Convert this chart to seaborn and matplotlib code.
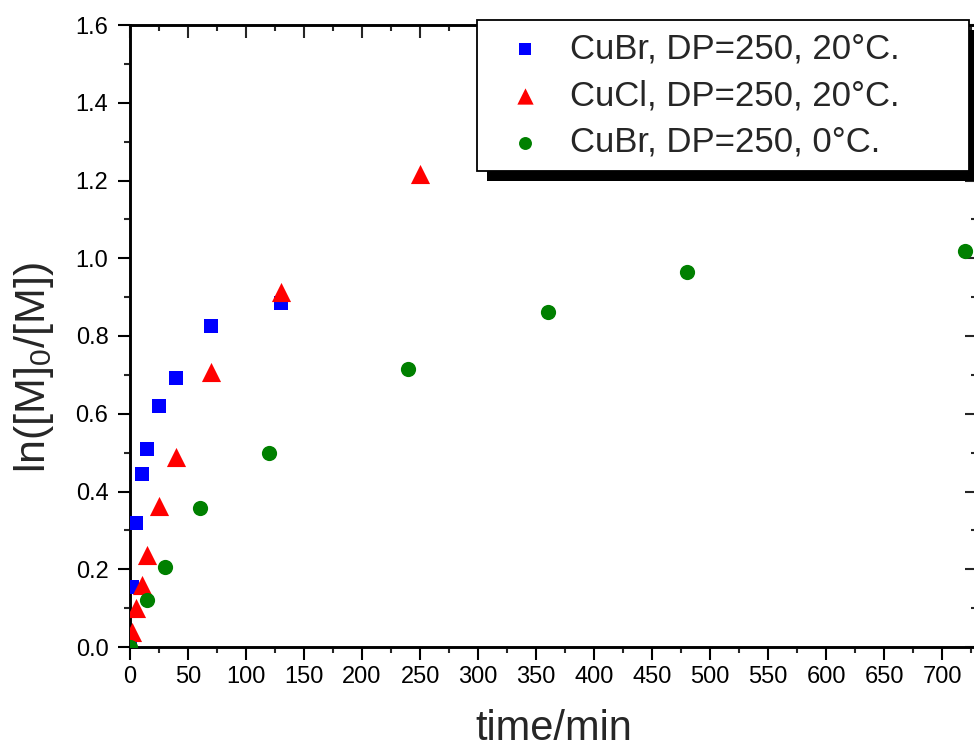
import numpy as np
import pandas as pd
import matplotlib
matplotlib.use("Agg")
import matplotlib.pyplot as plt
import seaborn as sns
from matplotlib.patches import Rectangle
from matplotlib.ticker import MultipleLocator, FormatStrFormatter

# ---- data ----
labels = ["CuBr, DP=250, 20°C.", "CuCl, DP=250, 20°C.", "CuBr, DP=250, 0°C."]
t_cubr20 = [0, 2, 5, 10, 15, 25, 40, 70, 130]
y_cubr20 = [0.0, 0.155, 0.32, 0.445, 0.51, 0.62, 0.692, 0.826, 0.886]
t_cucl20 = [0, 2, 5, 10, 15, 25, 40, 70, 130, 250]
y_cucl20 = [0.0, 0.039, 0.10, 0.16, 0.237, 0.363, 0.489, 0.707, 0.913, 1.217]
t_cubr0 = [0, 15, 30, 60, 120, 240, 360, 480, 720]
y_cubr0 = [0.0, 0.121, 0.206, 0.358, 0.499, 0.715, 0.862, 0.965, 1.019]

colors = ["#0000ff", "#ff0000", "#008000"]
markers = ["s", "^", "o"]
sizes = [110, 190, 120]

df = pd.concat([
    pd.DataFrame({"t": t_cubr20, "y": y_cubr20, "series": labels[0]}),
    pd.DataFrame({"t": t_cucl20, "y": y_cucl20, "series": labels[1]}),
    pd.DataFrame({"t": t_cubr0, "y": y_cubr0, "series": labels[2]}),
])

sns.set_style("ticks")
plt.rcParams["font.family"] = ["Liberation Sans", "DejaVu Sans"]
plt.rcParams["mathtext.fontset"] = "custom"
plt.rcParams["mathtext.rm"] = "Liberation Sans"
plt.rcParams["mathtext.it"] = "Liberation Sans:italic"

W, H = 974, 751
fig = plt.figure(figsize=(W / 100, H / 100), dpi=100)
ax_l, ax_r, ax_b, ax_t = 130, 977, 647, 25
ax = fig.add_axes([ax_l / W, (H - ax_b) / H, (ax_r - ax_l) / W, (ax_b - ax_t) / H])

for lab, c, m, s in zip(labels, colors, markers, sizes):
    sub = df[df["series"] == lab]
    sns.scatterplot(data=sub, x="t", y="y", ax=ax, color=c, marker=m, s=s,
                    linewidth=0, label=lab, zorder=3)

ax.set_xlim(0, 730)
ax.set_ylim(0, 1.6)
ax.xaxis.set_major_locator(MultipleLocator(50))
ax.xaxis.set_minor_locator(MultipleLocator(25))
ax.yaxis.set_major_locator(MultipleLocator(0.2))
ax.yaxis.set_minor_locator(MultipleLocator(0.1))
ax.yaxis.set_major_formatter(FormatStrFormatter("%.1f"))

for sp in ax.spines.values():
    sp.set_linewidth(1.8)
    sp.set_color("black")
ax.tick_params(which="major", direction="out", length=9, width=1.5, labelsize=17, colors="black")
ax.tick_params(which="minor", direction="out", length=4.5, width=1.5)
ax.tick_params(axis="y", which="major", pad=6.5)
ax.tick_params(axis="x", which="major", pad=5)

ax.set_xlabel("time/min", fontsize=30, labelpad=15)
ax.set_ylabel("ln([M]$_0$/[M])", fontsize=31)
ax.yaxis.set_label_coords(-0.087, 0.449)

# inward ticks on right and top
axr = ax.twinx()
axr.set_ylim(ax.get_ylim())
axr.yaxis.set_major_locator(MultipleLocator(0.2))
axr.yaxis.set_minor_locator(MultipleLocator(0.1))
axr.tick_params(which="major", direction="in", length=9, width=1.5, labelright=False)
axr.tick_params(which="minor", direction="in", length=4.5, width=1.5)
axt = ax.twiny()
axt.set_xlim(ax.get_xlim())
axt.xaxis.set_major_locator(MultipleLocator(50))
axt.xaxis.set_minor_locator(MultipleLocator(25))
axt.tick_params(which="major", direction="in", length=9, width=1.5, labeltop=False)
axt.tick_params(which="minor", direction="in", length=4.5, width=1.5)
for a in (axr, axt):
    for sp in a.spines.values():
        sp.set_linewidth(1.8)
ax.set_zorder(axt.get_zorder() + 2)
ax.patch.set_visible(False)

if ax.get_legend():
    ax.get_legend().remove()
leg_x0, leg_x1, leg_top = 477, 969, 20
leg = ax.legend(loc="upper left",
                bbox_to_anchor=(leg_x0 / W, (H - leg_top - 100) / H, (leg_x1 - leg_x0) / W, 100 / H),
                bbox_transform=fig.transFigure, mode="expand", fontsize=25, frameon=True,
                fancybox=False, framealpha=1, edgecolor="black",
                handletextpad=0.26, borderpad=0.35, labelspacing=0.4,
                handlelength=2.07, borderaxespad=0, markerscale=0.85)
leg.get_frame().set_linewidth(1.3)
leg.set_zorder(10)

fig.canvas.draw()
bb = leg.get_window_extent()
shadow = Rectangle((bb.x0 + 10, bb.y0 - 10), bb.width, bb.height, transform=None,
                   facecolor="black", edgecolor="none", zorder=9, clip_on=False)
ax.add_artist(shadow)

fig.savefig("out.png", dpi=100)
